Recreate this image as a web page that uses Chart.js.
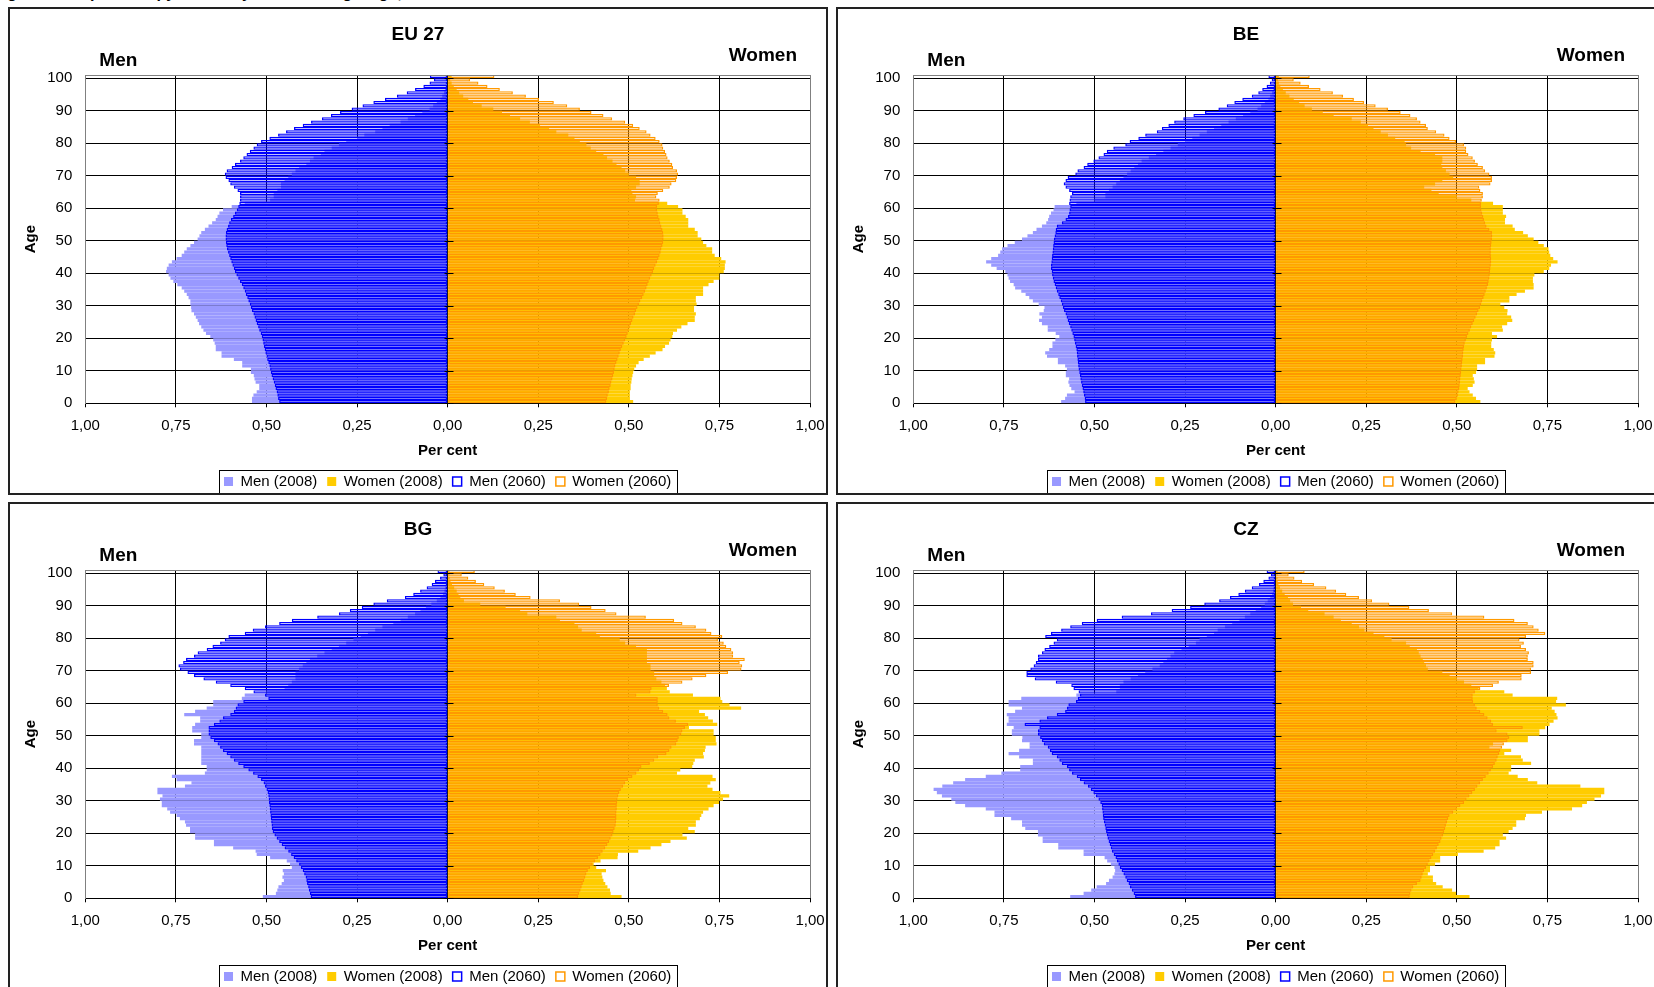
<!DOCTYPE html>
<html>
<head>
<meta charset="utf-8">
<script src="https://cdn.jsdelivr.net/npm/chart.js@4.4.1/dist/chart.umd.min.js"></script>
<style>
    html, body {
        margin: 0;
        padding: 0;
        background: #fff;
        width: 1654px;
        height: 987px;
        overflow: hidden;
        position: relative;
        font-family: "Liberation Sans", Arial, sans-serif;
    }
    .panel {
        position: absolute;
        width: 820px;
        height: 488px;
        border: 2px solid #222;
        box-sizing: border-box;
        background: #fff;
        overflow: hidden;
    }
    .panel canvas {
        display: block;
    }
    #caption {
        position: absolute;
        left: -7px;
        top: -16px;
        font-weight: bold;
        font-size: 16px;
        white-space: nowrap;
    }
</style>
</head>
<body>
<div id="caption">Figure 1 - Population pyramids by sex and single age, 2008 and 2060</div>
<div class="panel" style="left:8px;top:7px"><canvas id="chartEU" width="816" height="484"></canvas></div>
<div class="panel" style="left:836px;top:7px"><canvas id="chartBE" width="816" height="484"></canvas></div>
<div class="panel" style="left:8px;top:502px"><canvas id="chartBG" width="816" height="484"></canvas></div>
<div class="panel" style="left:836px;top:502px"><canvas id="chartCZ" width="816" height="484"></canvas></div>

<script>
// leeftijden 0..100, labels op de as om de 10 jaar
const ages = Array.from({length: 101}, (_, i) => i);
const ageTicks = [0, 10, 20, 30, 40, 50, 60, 70, 80, 90, 100];
const percentTicks = [-1, -0.75, -0.5, -0.25, 0, 0.25, 0.5, 0.75, 1];
const seriesNames = ['Men (2008)', 'Women (2008)', 'Men (2060)', 'Women (2060)'];

// aandeel per leeftijd in % van de totale bevolking
const euMen2008 = [
    .540, .540, .536, .527, .520, .520, .530, .533, .535, .543,
    .543, .567, .567, .590, .624, .624, .640, .640, .643, .647,
    .655, .667, .674, .680, .686, .690, .695, .700, .707, .708,
    .710, .710, .715, .720, .727, .734, .746, .757, .765, .770,
    .777, .775, .770, .761, .748, .734, .727, .720, .710, .700,
    .690, .685, .680, .670, .660, .650, .640, .635, .630, .620,
    .596, .560, .490, .480, .480, .470, .460, .460, .450, .440,
    .430, .420, .410, .390, .380, .370, .350, .340, .320, .300,
    .280, .250, .230, .200, .180, .160, .130, .110, .090, .070,
    .050, .040, .030, .020, .015, .010, .007, .004, .003, .002,
    .003
];
const euWomen2008 = [
    .512, .503, .503, .503, .505, .505, .507, .508, .510, .512,
    .515, .520, .527, .541, .558, .574, .593, .600, .611, .615,
    .620, .622, .633, .645, .662, .682, .682, .685, .680, .680,
    .687, .685, .685, .705, .705, .705, .720, .734, .750, .750,
    .762, .765, .765, .767, .755, .737, .730, .730, .714, .705,
    .700, .690, .690, .682, .664, .664, .664, .657, .648, .648,
    .636, .606, .517, .520, .510, .507, .520, .530, .530, .520,
    .500, .490, .480, .466, .455, .440, .430, .410, .395, .383,
    .365, .350, .333, .300, .280, .255, .227, .200, .172, .150,
    .126, .094, .070, .057, .043, .032, .025, .017, .011, .007,
    .011
];
const euMen2060 = [
    .465, .468, .470, .472, .475, .477, .480, .483, .486, .488,
    .490, .492, .495, .498, .500, .503, .505, .507, .509, .511,
    .513, .516, .520, .523, .527, .530, .533, .536, .540, .543,
    .546, .550, .553, .557, .560, .564, .568, .573, .578, .583,
    .587, .590, .594, .597, .600, .603, .606, .609, .611, .612,
    .613, .613, .612, .610, .606, .603, .598, .592, .587, .582,
    .578, .575, .573, .573, .573, .580, .590, .600, .605, .613,
    .615, .610, .596, .587, .573, .564, .555, .546, .536, .527,
    .515, .492, .468, .446, .424, .400, .377, .347, .322, .297,
    .265, .235, .205, .173, .140, .113, .090, .067, .050, .038,
    .049
];
const euWomen2060 = [
    .438, .440, .442, .445, .447, .450, .452, .455, .457, .459,
    .461, .463, .466, .469, .472, .475, .478, .482, .486, .490,
    .494, .497, .500, .503, .506, .510, .513, .517, .520, .524,
    .528, .532, .537, .541, .545, .549, .552, .555, .559, .563,
    .567, .570, .574, .578, .582, .585, .588, .590, .593, .595,
    .596, .596, .595, .593, .590, .587, .585, .582, .580, .578,
    .578, .583, .585, .576, .580, .595, .613, .618, .631, .633,
    .636, .633, .622, .620, .613, .607, .604, .600, .595, .593,
    .585, .574, .560, .549, .530, .512, .490, .454, .430, .397,
    .365, .330, .293, .252, .216, .180, .144, .110, .085, .062,
    .129
];

const beMen2008 = [
    .592, .581, .576, .555, .564, .569, .572, .570, .579, .579,
    .576, .581, .601, .601, .631, .636, .625, .616, .616, .608,
    .597, .607, .629, .629, .645, .653, .645, .652, .640, .638,
    .654, .670, .680, .690, .702, .719, .723, .733, .737, .740,
    .746, .770, .785, .799, .785, .766, .760, .755, .740, .720,
    .700, .685, .670, .660, .645, .633, .628, .625, .620, .613,
    .610, .550, .500, .470, .470, .460, .450, .440, .430, .420,
    .410, .400, .390, .380, .370, .350, .330, .310, .290, .270,
    .250, .230, .210, .190, .170, .150, .130, .110, .090, .070,
    .050, .040, .030, .020, .015, .010, .006, .004, .003, .002,
    .003
];
const beWomen2008 = [
    .565, .553, .544, .535, .530, .544, .549, .547, .544, .553,
    .556, .556, .578, .578, .604, .606, .602, .595, .595, .597,
    .611, .597, .627, .625, .639, .653, .650, .639, .640, .631,
    .620, .645, .645, .665, .688, .712, .712, .710, .710, .714,
    .740, .755, .760, .778, .766, .758, .755, .753, .740, .725,
    .712, .696, .683, .660, .654, .633, .633, .636, .627, .627,
    .627, .600, .540, .500, .450, .430, .410, .440, .460, .490,
    .480, .470, .460, .457, .460, .460, .440, .400, .374, .360,
    .356, .330, .310, .290, .270, .255, .235, .210, .160, .130,
    .100, .080, .065, .050, .038, .028, .020, .013, .009, .006,
    .009
];
const beMen2060 = [
    .526, .527, .529, .531, .533, .535, .537, .539, .540, .542,
    .544, .545, .546, .547, .548, .549, .550, .552, .554, .556,
    .558, .561, .564, .567, .571, .574, .577, .580, .584, .587,
    .590, .593, .597, .600, .604, .607, .610, .613, .615, .617,
    .618, .620, .620, .619, .618, .617, .616, .615, .614, .613,
    .612, .610, .608, .607, .604, .590, .580, .573, .570, .569,
    .567, .570, .569, .567, .562, .570, .580, .585, .580, .574,
    .553, .547, .530, .520, .503, .489, .475, .466, .448, .415,
    .403, .379, .360, .328, .314, .296, .280, .255, .227, .195,
    .158, .135, .114, .092, .066, .048, .037, .025, .016, .011,
    .020
];
const beWomen2060 = [
    .496, .500, .503, .505, .507, .508, .509, .510, .511, .512,
    .513, .514, .515, .516, .517, .518, .519, .520, .522, .525,
    .528, .532, .536, .540, .544, .548, .552, .556, .560, .564,
    .567, .570, .574, .577, .580, .583, .586, .588, .590, .591,
    .592, .593, .594, .595, .595, .594, .594, .594, .595, .596,
    .597, .598, .597, .590, .582, .578, .575, .573, .570, .568,
    .567, .567, .569, .572, .572, .565, .562, .593, .597, .597,
    .590, .578, .572, .558, .550, .544, .532, .526, .526, .520,
    .498, .480, .466, .443, .420, .415, .400, .390, .372, .345,
    .310, .276, .244, .216, .186, .158, .124, .092, .069, .050,
    .094
];

const bgMen2008 = [
    .510, .474, .470, .467, .458, .452, .456, .452, .455, .430,
    .435, .444, .490, .527, .530, .592, .645, .645, .697, .697,
    .711, .711, .722, .725, .739, .748, .766, .774, .789, .789,
    .794, .787, .801, .801, .725, .707, .748, .761, .670, .665,
    .665, .680, .680, .680, .680, .680, .680, .700, .700, .680,
    .680, .705, .705, .697, .683, .683, .727, .697, .665, .647,
    .647, .568, .560, .500, .450, .440, .430, .420, .420, .420,
    .410, .400, .390, .380, .360, .340, .320, .300, .280, .260,
    .240, .220, .200, .180, .150, .130, .110, .090, .075, .060,
    .045, .030, .020, .013, .009, .006, .004, .003, .002, .001,
    .002
];
const bgWomen2008 = [
    .480, .450, .448, .441, .435, .430, .427, .425, .437, .410,
    .403, .422, .469, .470, .526, .560, .590, .615, .660, .648,
    .682, .664, .685, .685, .696, .700, .705, .720, .734, .749,
    .760, .777, .753, .731, .717, .725, .740, .731, .633, .642,
    .675, .678, .682, .707, .705, .710, .712, .742, .740, .740,
    .734, .734, .666, .744, .732, .719, .710, .694, .810, .778,
    .758, .753, .677, .613, .605, .600, .590, .576, .570, .570,
    .560, .560, .550, .550, .550, .550, .550, .520, .490, .475,
    .420, .410, .370, .360, .350, .310, .300, .220, .200, .160,
    .090, .045, .035, .030, .025, .018, .012, .008, .005, .003,
    .003
];
const bgMen2060 = [
    .378, .380, .383, .385, .388, .390, .392, .396, .400, .405,
    .410, .418, .425, .432, .440, .450, .458, .465, .472, .478,
    .483, .485, .486, .487, .488, .489, .490, .491, .492, .493,
    .494, .495, .497, .500, .504, .508, .515, .525, .537, .550,
    .564, .578, .590, .600, .610, .620, .628, .635, .645, .655,
    .660, .660, .660, .645, .630, .620, .600, .590, .585, .580,
    .564, .495, .504, .536, .560, .600, .640, .674, .700, .718,
    .739, .743, .730, .722, .700, .690, .665, .649, .628, .615,
    .605, .560, .538, .504, .465, .430, .360, .300, .270, .237,
    .205, .168, .118, .095, .076, .058, .044, .035, .021, .012,
    .028
];
const bgWomen2060 = [
    .360, .363, .367, .370, .373, .377, .380, .383, .387, .393,
    .400, .407, .415, .422, .428, .435, .441, .446, .450, .455,
    .458, .461, .464, .465, .466, .466, .466, .467, .467, .468,
    .469, .471, .474, .478, .484, .490, .498, .510, .521, .528,
    .535, .558, .570, .581, .604, .612, .618, .631, .635, .638,
    .645, .648, .655, .664, .630, .612, .607, .595, .584, .580,
    .580, .580, .521, .560, .563, .611, .648, .676, .714, .774,
    .811, .813, .806, .820, .788, .788, .783, .769, .762, .746,
    .758, .728, .714, .685, .648, .625, .547, .466, .436, .397,
    .363, .310, .229, .188, .158, .130, .101, .078, .057, .039,
    .075
];

const czMen2008 = [
    .567, .530, .509, .494, .468, .460, .450, .445, .443, .445,
    .455, .465, .472, .530, .530, .600, .600, .643, .643, .656,
    .656, .691, .700, .700, .730, .776, .776, .800, .857, .884,
    .895, .921, .935, .944, .920, .890, .857, .800, .757, .705,
    .705, .670, .670, .708, .737, .708, .679, .679, .700, .699,
    .728, .728, .723, .742, .737, .737, .742, .719, .700, .737,
    .737, .702, .550, .440, .430, .430, .420, .400, .380, .360,
    .340, .320, .310, .300, .290, .280, .260, .240, .220, .210,
    .190, .170, .160, .140, .120, .100, .085, .070, .055, .040,
    .030, .022, .015, .010, .007, .005, .003, .002, .001, .001,
    .001
];
const czWomen2008 = [
    .535, .498, .487, .461, .443, .434, .434, .420, .426, .426,
    .440, .454, .454, .503, .574, .606, .618, .618, .636, .627,
    .643, .654, .664, .664, .688, .691, .735, .818, .846, .859,
    .880, .898, .907, .907, .841, .722, .696, .668, .643, .650,
    .650, .705, .682, .677, .631, .650, .590, .600, .696, .696,
    .728, .728, .744, .756, .767, .778, .775, .770, .762, .801,
    .774, .777, .654, .631, .560, .540, .520, .500, .480, .460,
    .420, .415, .410, .406, .400, .395, .390, .370, .360, .320,
    .300, .270, .245, .230, .210, .180, .160, .135, .090, .070,
    .048, .040, .034, .025, .018, .012, .008, .005, .003, .002,
    .003
];
const czMen2060 = [
    .388, .392, .397, .402, .406, .411, .415, .420, .425, .430,
    .434, .438, .442, .447, .452, .455, .458, .461, .464, .466,
    .468, .470, .472, .474, .476, .477, .478, .479, .480, .484,
    .489, .496, .503, .510, .518, .530, .540, .549, .562, .570,
    .576, .590, .597, .604, .618, .623, .629, .640, .645, .650,
    .656, .656, .652, .693, .652, .631, .604, .581, .576, .572,
    .551, .546, .540, .544, .558, .564, .607, .665, .688, .688,
    .677, .668, .662, .656, .656, .645, .638, .625, .613, .604,
    .636, .620, .592, .567, .535, .494, .425, .344, .287, .236,
    .197, .156, .126, .103, .085, .066, .046, .034, .020, .013,
    .025
];
const czWomen2060 = [
    .370, .372, .375, .380, .390, .400, .403, .406, .410, .415,
    .420, .425, .430, .435, .440, .445, .450, .455, .458, .462,
    .465, .468, .470, .473, .476, .480, .490, .500, .510, .520,
    .527, .535, .543, .550, .557, .564, .572, .580, .588, .594,
    .600, .605, .610, .613, .617, .620, .625, .630, .640, .645,
    .640, .610, .682, .600, .595, .585, .576, .565, .555, .550,
    .545, .544, .544, .550, .565, .600, .616, .679, .679, .705,
    .705, .712, .712, .696, .696, .699, .691, .677, .685, .673,
    .691, .744, .726, .712, .696, .659, .576, .487, .423, .369,
    .314, .266, .230, .195, .167, .140, .106, .073, .052, .036,
    .080
];

const FONT = '"Liberation Sans", Arial, sans-serif';
Chart.defaults.font.family = FONT;
Chart.defaults.font.size = 15;
Chart.defaults.color = '#000';

// Men/Women boven de grafiek, kruisstreepjes op de 0-as, kader rond de legenda
const pyramidExtras = {
    id: 'pyramidExtras',
    afterDatasetsDraw(chart) {
        const {ctx, chartArea: a, scales: {x, y}} = chart;
        const x0 = Math.round(x.getPixelForValue(0)) + 0.5;
        ctx.save();
        ctx.strokeStyle = '#000';
        ctx.lineWidth = 1;
        ctx.beginPath();
        ageTicks.forEach(v => {
            const py = Math.round(y.getPixelForValue(v)) + 0.5;
            ctx.moveTo(x0 - 4, py);
            ctx.lineTo(x0 + 5, py);
        });
        ctx.stroke();
        ctx.strokeStyle = '#808080';
        ctx.beginPath();
        ctx.moveTo(a.left, Math.round(a.top) + 0.5);
        ctx.lineTo(a.right, Math.round(a.top) + 0.5);
        ctx.stroke();
        ctx.restore();
    },
    afterDraw(chart) {
        const {ctx, chartArea: a, legend} = chart;
        ctx.save();
        ctx.fillStyle = '#000';
        ctx.font = 'bold 19px ' + FONT;
        ctx.textBaseline = 'middle';
        ctx.textAlign = 'center';
        ctx.fillText('Men', a.left + 33, a.top - 14);
        ctx.textAlign = 'right';
        ctx.fillText('Women', a.right - 13, a.top - 19.5);
        const hb = legend.legendHitBoxes;
        if (hb && hb.length) {
            const first = hb[0];
            const last = hb[hb.length - 1];
            const left = Math.round(first.left - 5) + 0.5;
            const right = Math.round(last.left + last.width + 6) + 0.5;
            const top = Math.round(first.top - 4) + 0.5;
            const bottom = Math.round(first.top + first.height + 5) + 0.5;
            ctx.strokeStyle = '#000';
            ctx.lineWidth = 1;
            ctx.strokeRect(left, top, right - left, bottom - top);
        }
        ctx.restore();
    }
};

function toPoints(values, sign) {
    return values.map((v, i) => ({x: sign * v, y: ages[i] + 0.5}));
}

function drawPyramid(canvasId, title, men2008, women2008, men2060, women2060) {
    const ctx = document.getElementById(canvasId).getContext('2d');
    return new Chart(ctx, {
        type: 'bar',
        data: {
            datasets: [
                {
                    label: seriesNames[0],
                    data: toPoints(men2008, -1),
                    backgroundColor: '#9999FF',
                    borderWidth: 0,
                    order: 2,
                    legendFill: '#9999FF', legendStroke: '#9999FF', legendLine: 0
                },
                {
                    label: seriesNames[1],
                    data: toPoints(women2008, 1),
                    backgroundColor: '#FFCC00',
                    borderWidth: 0,
                    order: 2,
                    legendFill: '#FFCC00', legendStroke: '#FFCC00', legendLine: 0
                },
                {
                    label: seriesNames[2],
                    data: toPoints(men2060, -1),
                    backgroundColor: 'rgba(0,0,0,0)',
                    borderColor: '#0000FF',
                    borderWidth: 1.3,
                    order: 1,
                    legendFill: '#fff', legendStroke: '#0000FF', legendLine: 1.5
                },
                {
                    label: seriesNames[3],
                    data: toPoints(women2060, 1),
                    backgroundColor: 'rgba(0,0,0,0)',
                    borderColor: '#FF9900',
                    borderWidth: 1.3,
                    order: 1,
                    legendFill: '#fff', legendStroke: '#FF9900', legendLine: 1.5
                }
            ]
        },
        options: {
            responsive: false,
            animation: false,
            indexAxis: 'y',
            layout: {padding: {left: 0, right: 0, top: 0, bottom: -6}},
            datasets: {
                bar: {
                    grouped: false,
                    barPercentage: 1,
                    categoryPercentage: 1,
                    borderSkipped: false,
                    inflateAmount: 0
                }
            },
            scales: {
                x: {
                    type: 'linear',
                    min: -1,
                    max: 1,
                    afterBuildTicks: s => { s.ticks = percentTicks.map(v => ({value: v})); },
                    afterFit: s => {
                        s.height = 60.7;
                        s.paddingLeft = 0;
                        s.paddingRight = 0;
                    },
                    ticks: {
                        padding: 10,
                        maxRotation: 0,
                        autoSkip: false,
                        callback: v => Math.abs(v).toFixed(2).replace('.', ',')
                    },
                    grid: {
                        color: c => (c.tick && Math.abs(c.tick.value) === 1 ? '#808080' : '#000'),
                        tickColor: '#000',
                        tickLength: 4
                    },
                    border: {color: '#000'},
                    title: {
                        display: true,
                        text: 'Per cent',
                        font: {size: 15, weight: 'bold'},
                        padding: {top: 0, bottom: 4}
                    }
                },
                y: {
                    type: 'linear',
                    min: 0,
                    max: 101,
                    offset: false,
                    afterBuildTicks: s => { s.ticks = ageTicks.map(v => ({value: v})); },
                    afterFit: s => { s.width = 75.3; },
                    ticks: {padding: 13, autoSkip: false},
                    grid: {color: '#000', drawTicks: false, offset: false},
                    border: {color: '#808080'},
                    title: {
                        display: true,
                        text: 'Age',
                        font: {size: 15, weight: 'bold'},
                        padding: {top: 11.6, bottom: 0}
                    }
                },
                rechts: {
                    type: 'linear',
                    position: 'right',
                    display: true,
                    ticks: {display: false},
                    grid: {display: false},
                    border: {display: false},
                    afterFit: s => { s.width = 16; }
                }
            },
            plugins: {
                title: {
                    display: true,
                    text: title,
                    font: {size: 19, weight: 'bold'},
                    color: '#000',
                    padding: {top: 14.5, bottom: 28.7}
                },
                legend: {
                    position: 'bottom',
                    fullSize: false,
                    labels: {
                        boxWidth: 9,
                        boxHeight: 9,
                        padding: 10,
                        font: {size: 15},
                        color: '#000',
                        generateLabels: function(chart) {
                            return chart.data.datasets.map((ds, i) => ({
                                text: ds.label,
                                fillStyle: ds.legendFill,
                                strokeStyle: ds.legendStroke,
                                lineWidth: ds.legendLine,
                                hidden: false,
                                datasetIndex: i
                            }));
                        }
                    }
                },
                tooltip: {enabled: false}
            }
        },
        plugins: [pyramidExtras]
    });
}

drawPyramid('chartEU', 'EU 27', euMen2008, euWomen2008, euMen2060, euWomen2060);
drawPyramid('chartBE', 'BE', beMen2008, beWomen2008, beMen2060, beWomen2060);
drawPyramid('chartBG', 'BG', bgMen2008, bgWomen2008, bgMen2060, bgWomen2060);
drawPyramid('chartCZ', 'CZ', czMen2008, czWomen2008, czMen2060, czWomen2060);
</script>
</body>
</html>
